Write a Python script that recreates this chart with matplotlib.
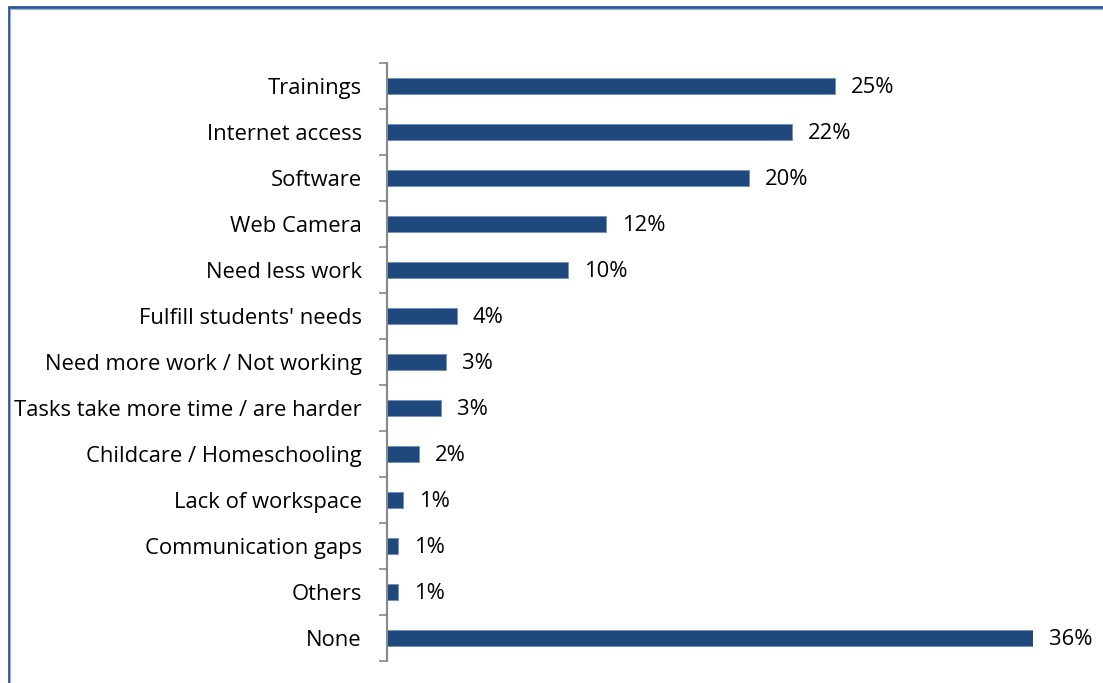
import matplotlib
matplotlib.use("Agg")
import matplotlib.pyplot as plt
from matplotlib.patches import Rectangle

categories = ["Trainings", "Internet access", "Software", "Web Camera", "Need less work",
              "Fulfill students' needs", "Need more work / Not working",
              "Tasks take more time / are harder", "Childcare / Homeschooling",
              "Lack of workspace", "Communication gaps", "Others", "None"]
values = [25.0, 22.6, 20.2, 12.2, 10.1, 3.9, 3.3, 3.0, 1.8, 0.9, 0.6, 0.6, 36.0]
value_labels = ["25%", "22%", "20%", "12%", "10%", "4%", "3%", "3%", "2%", "1%", "1%", "1%", "36%"]

plt.rcParams['font.family'] = ['Open Sans', 'DejaVu Sans']
FS = 15.8

W, H = 1103, 683
fig = plt.figure(figsize=(W/100, H/100), dpi=100)
x0, x1 = 387, 1032.7
y0, y1 = 63, 661
xmax = 36.0
ax = fig.add_axes([x0/W, 1 - y1/H, (x1 - x0)/W, (y1 - y0)/H])
n = len(categories)
ypos = list(range(n))
ax.barh(ypos, values, height=0.35, color='#1F497D', edgecolor='#6F8FBF', linewidth=0.6)
ax.set_xlim(0, xmax)
ax.set_ylim(n - 0.5, -0.5)
ax.set_yticks(ypos)
ax.set_yticklabels(categories, fontsize=FS, color='black')
ax.set_yticks([i - 0.5 for i in range(n + 1)], minor=True)
ax.tick_params(axis='y', which='major', length=0, pad=18)
ax.tick_params(axis='y', which='minor', length=6, color='#888888', width=1.2, direction='out')
ax.set_xticks([])
for s in ['top', 'right', 'bottom']:
    ax.spines[s].set_visible(False)
ax.spines['left'].set_color('#888888')
ax.spines['left'].set_linewidth(1.5)
for i, (v, lab) in enumerate(zip(values, value_labels)):
    ax.annotate(lab, (v, i), xytext=(11.5, -1.2), textcoords='offset points',
                va='center', ha='left', fontsize=FS, color='black')

fig.patches.append(Rectangle((8.5/W, -0.1), 1.2, 1 - 7.5/H + 0.1, transform=fig.transFigure,
                             fill=False, edgecolor='#2F5597', linewidth=2.0))
fig.patches.append(Rectangle((10/W, -0.1), 1.2, 1 - 9/H + 0.1, transform=fig.transFigure,
                             fill=False, edgecolor='#9DB4D9', linewidth=0.8))

fig.savefig("out.png", dpi=100)
